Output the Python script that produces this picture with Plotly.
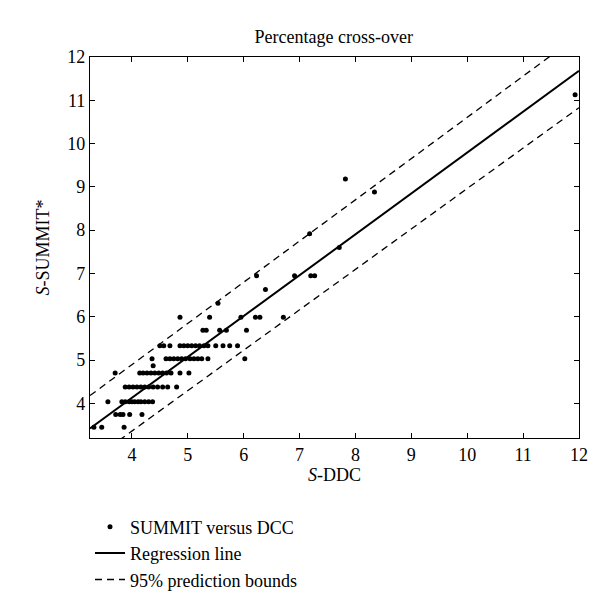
import plotly.graph_objects as go

# ---- data ----
scatter_x = [
    3.32, 3.46, 3.86,
    3.71, 3.79, 3.84, 3.96, 4.18,
    3.57, 3.82, 3.88, 3.95, 4.00, 4.05, 4.11, 4.16, 4.23, 4.30, 4.37,
    3.88, 3.95, 4.02, 4.09, 4.16, 4.23, 4.30, 4.38, 4.46, 4.55, 4.64, 4.80,
    3.70, 4.14, 4.20, 4.27, 4.34, 4.41, 4.48, 4.55, 4.62, 4.70, 4.86, 5.02,
    4.38,
    4.36, 4.61, 4.68, 4.75, 4.82, 4.89, 4.96, 5.04, 5.11, 5.18, 5.25, 5.36, 6.02,
    4.50, 4.57, 4.68, 4.86, 4.93, 5.00, 5.07, 5.14, 5.21, 5.29, 5.36, 5.50, 5.63, 5.75, 5.89,
    5.27, 5.33, 5.57, 5.69, 6.05,
    4.86, 5.39, 5.95, 6.21, 6.29, 6.71,
    5.54,
    6.39,
    6.23, 6.91, 7.20, 7.27,
    7.71,
    7.18,
    8.34,
    7.82,
    11.93,
]
scatter_y = [
    3.45, 3.45, 3.45,
    3.74, 3.74, 3.74, 3.74, 3.74,
    4.04, 4.04, 4.04, 4.04, 4.04, 4.04, 4.04, 4.04, 4.04, 4.04, 4.04,
    4.38, 4.38, 4.38, 4.38, 4.38, 4.38, 4.38, 4.38, 4.38, 4.38, 4.38, 4.38,
    4.70, 4.70, 4.70, 4.70, 4.70, 4.70, 4.70, 4.70, 4.70, 4.70, 4.70, 4.70,
    4.87,
    5.03, 5.03, 5.03, 5.03, 5.03, 5.03, 5.03, 5.03, 5.03, 5.03, 5.03, 5.03, 5.03,
    5.33, 5.33, 5.33, 5.33, 5.33, 5.33, 5.33, 5.33, 5.33, 5.33, 5.33, 5.33, 5.33, 5.33, 5.33,
    5.69, 5.69, 5.69, 5.69, 5.69,
    5.99, 5.99, 5.99, 5.99, 5.99, 5.99,
    6.31,
    6.63,
    6.95, 6.95, 6.95, 6.95,
    7.60,
    7.92,
    8.88,
    9.18,
    11.13,
]

line_x = [3.25, 12.0]
regression_y = [3.42, 11.68]
upper_bound_y = [4.18, 12.51]
lower_bound_y = [2.66, 10.83]

x_ticks = [4, 5, 6, 7, 8, 9, 10, 11, 12]
y_ticks = [4, 5, 6, 7, 8, 9, 10, 11, 12]

FONT = "Liberation Serif"

fig = go.Figure()
fig.add_trace(go.Scatter(
    x=scatter_x, y=scatter_y, mode="markers",
    marker=dict(size=5, color="black", symbol="circle"),
    name="SUMMIT versus DCC",
))
fig.add_trace(go.Scatter(
    x=line_x, y=regression_y, mode="lines",
    line=dict(color="black", width=2),
    name="Regression line",
))
fig.add_trace(go.Scatter(
    x=line_x, y=upper_bound_y, mode="lines",
    line=dict(color="black", width=1.3, dash="7px,5px"),
    name="95% prediction bounds",
))
fig.add_trace(go.Scatter(
    x=line_x, y=lower_bound_y, mode="lines",
    line=dict(color="black", width=1.3, dash="7px,5px"),
    name="95% prediction bounds", showlegend=False,
))

axis_common = dict(
    showline=True, linecolor="black", linewidth=1.2, mirror="ticks",
    ticks="inside", ticklen=5, tickcolor="black", tickwidth=1,
    showgrid=False, zeroline=False,
    tickfont=dict(family=FONT, size=18, color="black"),
)

fig.update_xaxes(
    range=[3.25, 12], tickvals=x_ticks, ticktext=[str(t) for t in x_ticks],
    title=dict(text="<i>S</i>-DDC", font=dict(family=FONT, size=18, color="black"), standoff=2),
    **axis_common,
)
fig.update_yaxes(
    range=[3.2, 12], tickvals=y_ticks, ticktext=[str(t) for t in y_ticks],
    title=dict(text="<i>S</i>-SUMMIT*", font=dict(family=FONT, size=18, color="black"), standoff=12),
    **axis_common,
)

fig.update_layout(
    width=600, height=602,
    margin=dict(l=82, r=29, t=49, b=169),
    paper_bgcolor="white", plot_bgcolor="white",
    font=dict(family=FONT, size=18, color="black"),
    title=dict(text="Percentage cross-over", x=0.543, xanchor="center", y=0.952, yanchor="middle",
               font=dict(family=FONT, size=18, color="black")),
    legend=dict(x=0.0, xanchor="left", y=-0.185, yanchor="top",
                font=dict(family=FONT, size=18, color="black"),
                bgcolor="rgba(0,0,0,0)", tracegroupgap=0),
    showlegend=True,
)

fig.write_html("out.html")
